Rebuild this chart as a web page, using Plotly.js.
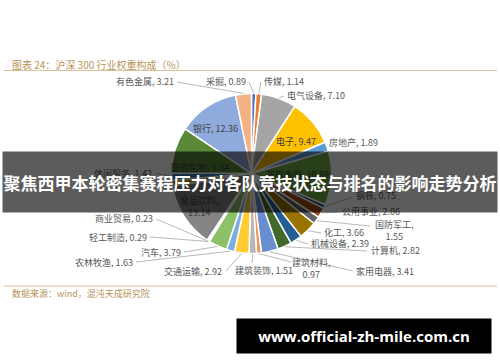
<!DOCTYPE html>
<html>
<head>
<meta charset="utf-8">
<script src="https://cdn.plot.ly/plotly-3.0.1.min.js"></script>
<style>html,body{margin:0;padding:0;background:#fff;}#chart{width:500px;height:362px;}</style>
</head>
<body>
<div id="chart"></div>
<script>
// ---- data ----
const categories = ["采掘","传媒","电气设备","电子","房地产","非银金融","钢铁","公用事业","国防军工","化工","机械设备","计算机","家用电器","建筑材料","建筑装饰","交通运输","农林牧渔","汽车","轻工制造","商业贸易","食品饮料","通信","休闲服务","医药生物","银行","有色金属"];
const weights = [0.89,1.14,7.10,9.47,1.89,10.89,0.75,2.06,1.55,3.66,2.39,2.82,3.41,0.97,1.51,2.92,1.63,3.79,0.29,0.23,13.14,1.17,1.42,9.34,12.36,3.21];
const sliceColors = ["#4472C4","#ED7D31","#A5A5A5","#FFC000","#5B9BD5","#70AD47","#264478","#9E480E","#636363","#997300","#255E91","#43682B","#698ED0","#F1975A","#B7B7B7","#FFCD33","#7CAFDD","#8CC168","#335AA1","#D26012","#848484","#CC9A00","#327DC2","#5A8A39","#8FAADC","#F4B183"];
const titleText = "图表 24：沪深 300 行业权重构成（%）";
const sourceText = "数据来源：wind，混沌天成研究院";
const bannerText = "聚焦西甲本轮密集赛程压力对各队竞技状态与排名的影响走势分析";
const watermarkText = "www.official-zh-mile.com.cn";

// ---- layout geometry (pixels) ----
const W = 500, H = 362;
const cx = 251.5, cy = 173.5, R = 80;
const px = x => x / W;
const py = y => 1 - y / H;

// label placement: [category, textX, textY, xanchor, lineStartX, lineStartY]  (lineStart null => no leader)
const outsideLabels = [
  ["有色金属", 175, 81, "right", 177, 82],
  ["采掘", 247, 81, "right", 249, 82],
  ["传媒", 263, 81, "left", 261, 82],
  ["电气设备", 286, 95, "left", 284, 96],
  ["房地产", 328, 142, "left", null, null],
  ["钢铁", 355, 196, "left", 352, 197],
  ["公用事业", 341, 211, "left", 338, 212],
  ["国防军工", 394, 230, "center", 370, 226],
  ["化工", 323, 232, "left", 321, 233],
  ["机械设备", 310, 243, "left", 308, 244],
  ["计算机", 370, 250, "left", 367, 251],
  ["家用电器", 355, 271, "left", 353, 271],
  ["建筑材料", 311, 268, "center", 291, 262],
  ["建筑装饰", 264, 270, "center", 252, 263],
  ["交通运输", 223, 271, "right", 226, 271],
  ["农林牧渔", 134, 262, "right", 136, 262],
  ["汽车", 182, 252, "right", 184, 252],
  ["轻工制造", 148, 237, "right", 150, 237],
  ["商业贸易", 154, 219, "right", 156, 219],
  ["休闲服务", 153, 173, "right", 155, 173]
];
const insideLabels = [
  ["电子", 296, 141],
  ["银行", 215, 128],
  ["医药生物", 200, 167],
  ["非银金融", 297, 175],
  ["食品饮料", 199, 206]
];
const twoLine = ["国防军工","建筑材料","食品饮料"];

// ---- compute slice mid angles from data ----
const total = weights.reduce((a,b)=>a+b,0);
const midAngle = {};
let cum = 0;
categories.forEach((c,i)=>{
  const a0 = cum / total * 360;
  cum += weights[i];
  const a1 = cum / total * 360;
  midAngle[c] = (a0 + a1) / 2;
});
function edgePoint(c){
  const a = midAngle[c] * Math.PI / 180;
  return [cx + (R+0.5) * Math.sin(a), cy - (R+0.5) * Math.cos(a)];
}
function labelText(c){
  const v = weights[categories.indexOf(c)].toFixed(2);
  return twoLine.includes(c) ? c + ",<br>" + v : c + ", " + v;
}

const labelFont = {family: "Noto Sans CJK SC, Noto Sans, sans-serif", size: 9, color: "#595959"};
const annotations = [];
const shapes = [];

outsideLabels.forEach(([c, tx, ty, xa, lx, ly])=>{
  annotations.push({xref:"paper", yref:"paper", x:px(tx), y:py(ty), xanchor:xa, yanchor:"middle",
    text: labelText(c), showarrow:false, font: labelFont, align:"center", borderpad:0});
  if (lx !== null){
    const [ex, ey] = edgePoint(c);
    shapes.push({type:"path", xref:"paper", yref:"paper",
      path: `M ${px(lx)} ${py(ly)} L ${px(ex)} ${py(ey)}`,
      line:{color:"#A6A6A6", width:0.8}});
  }
});
insideLabels.forEach(([c, tx, ty])=>{
  annotations.push({xref:"paper", yref:"paper", x:px(tx), y:py(ty), xanchor:"center", yanchor:"middle",
    text: labelText(c), showarrow:false, font:{family:labelFont.family, size:9, color:"#404040"}, align:"center", borderpad:0});
});

// title, rules, source
annotations.push({xref:"paper", yref:"paper", x:px(10), y:py(64), xanchor:"left", yanchor:"middle",
  text:titleText, showarrow:false, font:{family:"Noto Sans CJK SC, sans-serif", size:10, color:"#B8935A"}});
annotations.push({xref:"paper", yref:"paper", x:px(10), y:py(293), xanchor:"left", yanchor:"middle",
  text:sourceText, showarrow:false, font:{family:"Noto Sans CJK SC, sans-serif", size:9, color:"#B8935A"}});
shapes.push({type:"line", xref:"paper", yref:"paper", x0:px(4), x1:px(497), y0:py(70.5), y1:py(70.5), line:{color:"#D8C29C", width:1.2}});
shapes.push({type:"line", xref:"paper", yref:"paper", x0:px(4), x1:px(497), y0:py(286), y1:py(286), line:{color:"#D8C29C", width:1.2}});

// banner overlay (drawn after labels so it covers them)
annotations.push({xref:"paper", yref:"paper", x:px(250), y:py(182), xanchor:"center", yanchor:"middle",
  width:494, height:60, bgcolor:"rgba(0,0,0,0.64)", borderpad:0,
  text:bannerText, showarrow:false, font:{family:"Noto Sans CJK SC, sans-serif", size:17, color:"#ffffff", weight:700}});
// watermark
annotations.push({xref:"paper", yref:"paper", x:px(364), y:py(336), xanchor:"center", yanchor:"middle",
  width:254, height:34, bgcolor:"#000000", borderpad:0,
  text:watermarkText, showarrow:false, font:{family:"Open Sans, DejaVu Sans, sans-serif", size:15, color:"#ffffff", weight:700}});

const trace = {
  type:"pie",
  labels: categories,
  values: weights,
  sort:false,
  direction:"clockwise",
  rotation:0,
  textinfo:"none",
  hoverinfo:"label+value",
  marker:{colors: sliceColors, line:{color:"#ffffff", width:1.5}},
  domain:{x:[(cx-R)/W, (cx+R)/W], y:[1-(cy+R)/H, 1-(cy-R)/H]},
  showlegend:false
};

Plotly.newPlot("chart", [trace], {
  width:W, height:H,
  margin:{l:0,r:0,t:0,b:0},
  paper_bgcolor:"#ffffff",
  showlegend:false,
  annotations: annotations,
  shapes: shapes
}, {displayModeBar:false, staticPlot:true});
</script>
</body>
</html>
